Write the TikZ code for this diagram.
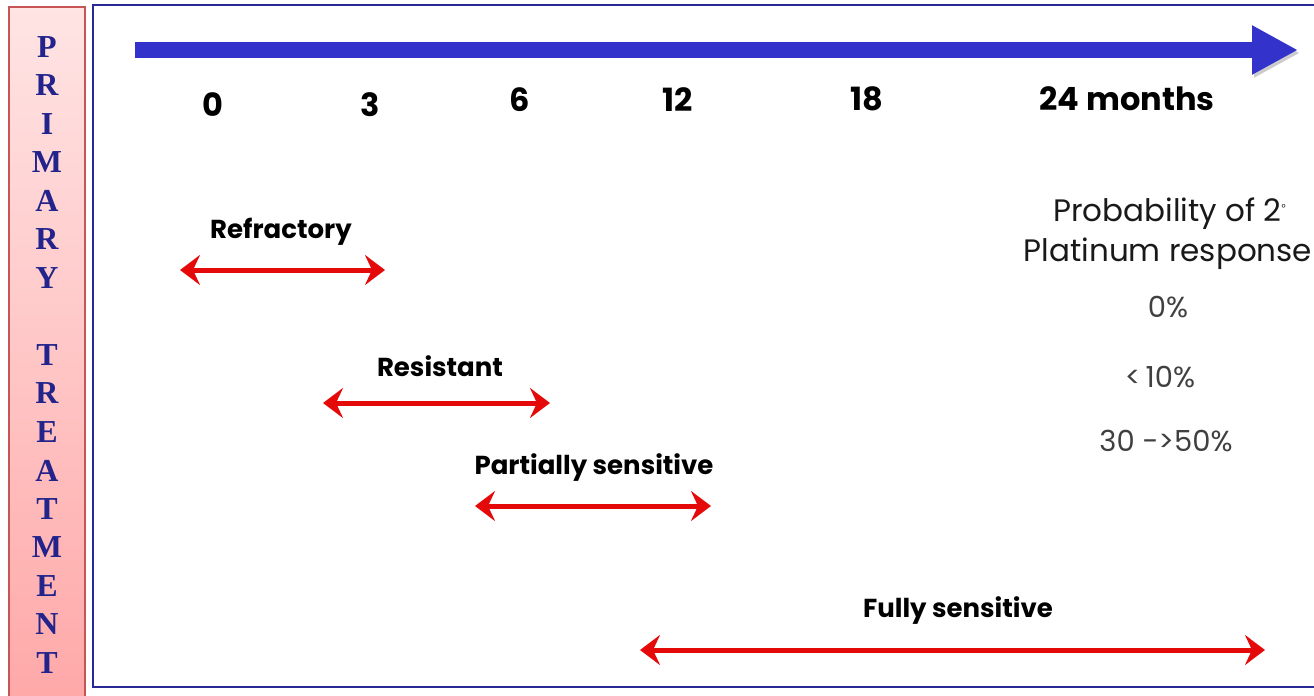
\documentclass[tikz,border=0pt]{standalone}
\usepackage{fontspec}
\setmainfont{Poppins}
\newfontfamily\barfont{Liberation Serif}
\usetikzlibrary{arrows.meta}

\definecolor{frameblue}{RGB}{40,40,150}
\definecolor{axisblue}{RGB}{51,51,204}
\definecolor{barpink}{RGB}{255,168,168}
\definecolor{barpinklight}{RGB}{255,228,228}
\definecolor{barred}{RGB}{200,85,85}
\definecolor{letterblue}{RGB}{35,35,140}
\definecolor{spanred}{RGB}{228,10,10}

\tikzset{
  monthlbl/.style={font=\bfseries\fontsize{16}{19}\selectfont},
  phaselbl/.style={font=\bfseries\fontsize{13}{15}\selectfont},
  problbl/.style={font=\fontsize{15.5}{18}\selectfont, text=black!90},
  pctlbl/.style={font=\fontsize{14.5}{17}\selectfont, text=black!75},
  barletter/.style={font=\barfont\bfseries\fontsize{16}{18}\selectfont, text=letterblue},
  span/.style={draw=spanred, line width=2.5pt,
    {Stealth[length=10pt,width=15pt,inset=3.5pt]}-{Stealth[length=10pt,width=15pt,inset=3.5pt]}},
}

\begin{document}
\begin{tikzpicture}[x=0.5pt,y=-0.5pt]
\useasboundingbox (0,0) rectangle (1314,696);
\clip (0,0) rectangle (1314,696);

% side bar and frame
\shade[top color=barpinklight, bottom color=barpink, draw=barred, line width=1pt] (9,7) rectangle (85,705);
\draw[frameblue, line width=1pt] (93,5) rectangle (1330,687);

    \foreach \c [count=\i from 0] in {P,R,I,M,A,R,Y}
        \node[barletter] (p\i) at (47,{47+38.5*\i}) {\c};
    \foreach \c [count=\i from 0] in {T,R,E,A,T,M,E,N,T}
        \node[barletter] (t\i) at (47,{355+38.5*\i}) {\c};

% time axis
    \coordinate (ax0) at (135,50);
    \coordinate (ax1) at (1298,50);
    \draw[axisblue, line width=8pt, -{Triangle[length=23pt,width=23pt]},
          preaction={draw=black, opacity=0.2, transform canvas={xshift=1pt,yshift=-1.5pt}}] (ax0) -- (ax1);

    \node[monthlbl] (m0) at (213,105) {0};
    \node[monthlbl] (m3) at (370,105) {3};
    \node[monthlbl] (m6) at (520,100) {6};
    \node[monthlbl] (m12) at (678,100) {12};
    \node[monthlbl] (m18) at (867,99) {18};
    \node[monthlbl] (m24) at (1127,99) {24 months};

% phases
    \node[phaselbl] (refr) at (281,232) {Refractory};
    \node[phaselbl] (resi) at (440,366) {Resistant};
    \node[phaselbl] (part) at (594,468) {Partially sensitive};
    \node[phaselbl] (full) at (958,611) {Fully sensitive};

    \coordinate (refr-a) at (180,270);
    \coordinate (refr-b) at (385,270);
    \coordinate (resi-a) at (323,403);
    \coordinate (resi-b) at (550,403);
    \coordinate (part-a) at (475,506);
    \coordinate (part-b) at (711,506);
    \coordinate (full-a) at (640,650);
    \coordinate (full-b) at (1265,650);

    % draw the arrows
    \draw[span] (refr-a) -- (refr-b);
    \draw[span] (resi-a) -- (resi-b);
    \draw[span] (part-a) -- (part-b);
    \draw[span] (full-a) -- (full-b);

% probability column
    \node[problbl] (prob1) at (1170,214) {Probability of 2\textsuperscript{\tiny°}};
    \node[problbl] (prob2) at (1168,254) {Platinum response};
    \node[pctlbl] (pct0) at (1168,307) {0\%};
    \node[pctlbl] (pct1) at (1160,377) {<\,10\%};
    \node[pctlbl] (pct2) at (1166,441) {30 ->50\%};

\end{tikzpicture}
\end{document}
